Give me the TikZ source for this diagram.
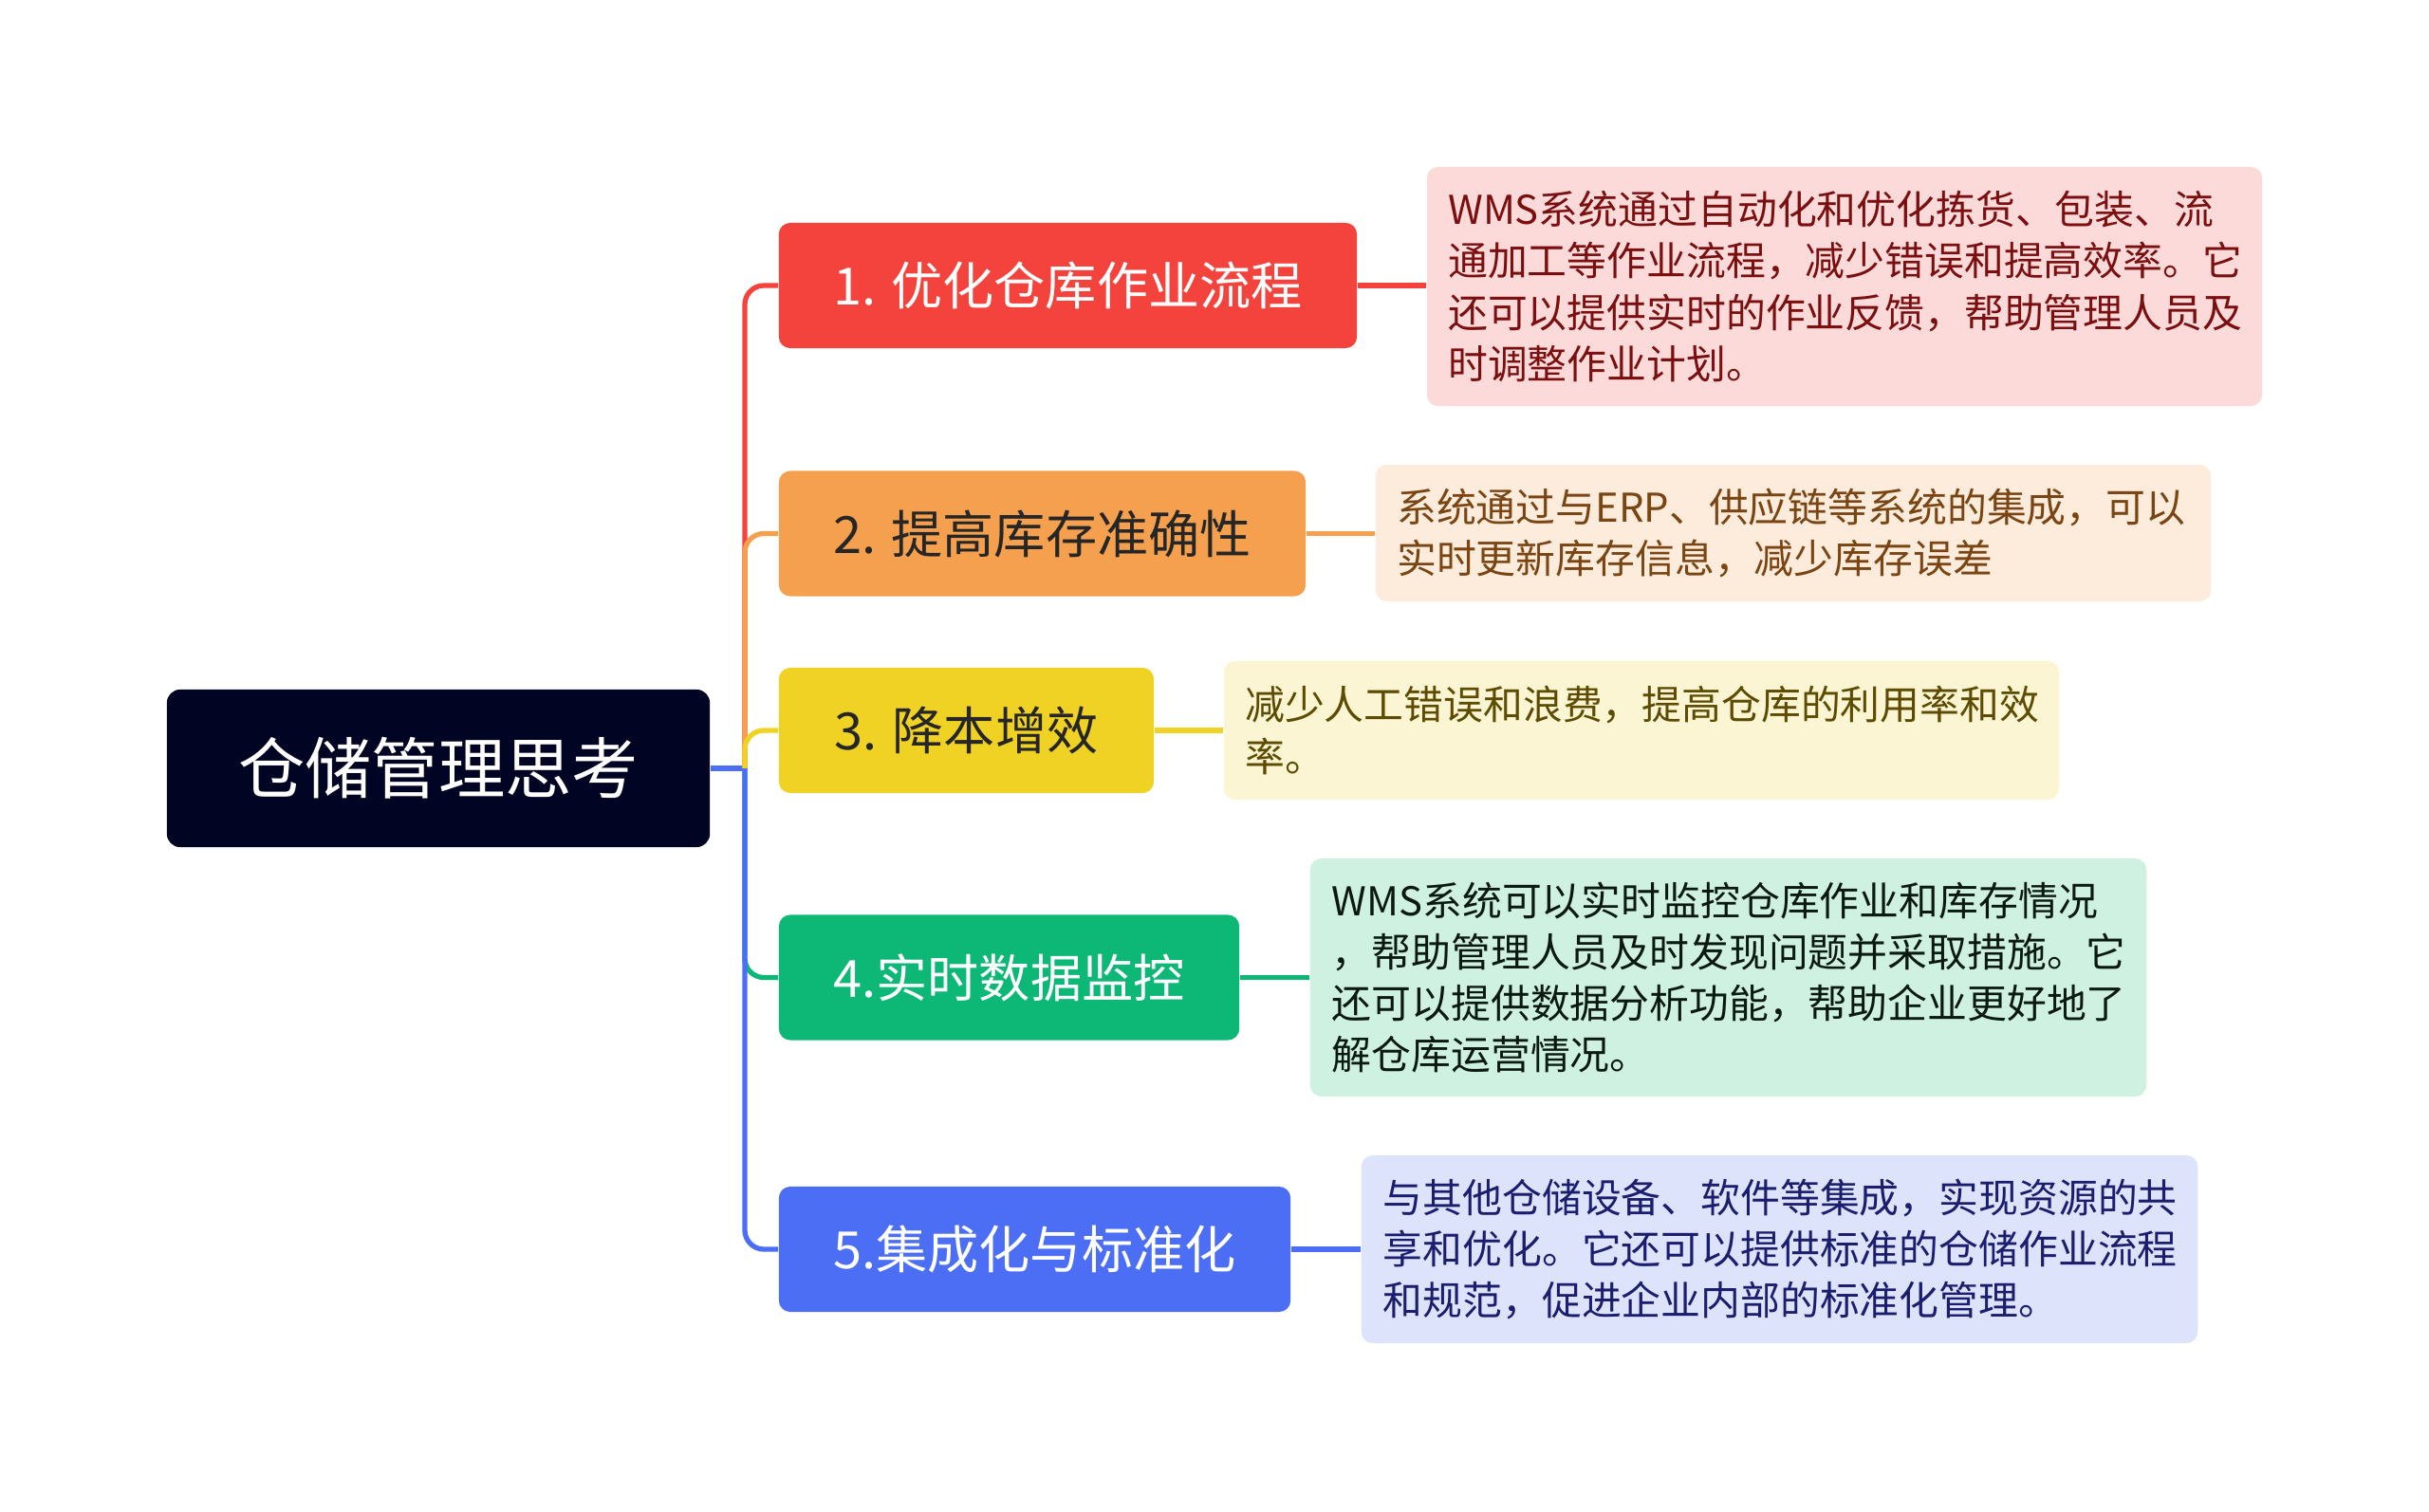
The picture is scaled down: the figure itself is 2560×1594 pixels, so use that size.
\documentclass[tikz,border=0pt]{standalone}
\usepackage{fontspec}
\setmainfont{Noto Sans CJK SC}
\definecolor{rootc}{HTML}{020424}
\definecolor{redc}{HTML}{F4433C}
\definecolor{orangec}{HTML}{F5A04E}
\definecolor{yellowc}{HTML}{F0D225}
\definecolor{greenc}{HTML}{0DB877}
\definecolor{bluec}{HTML}{4B6EF5}
\definecolor{redbg}{HTML}{FDDADA}
\definecolor{orangebg}{HTML}{FDEBDB}
\definecolor{yellowbg}{HTML}{FCF5D3}
\definecolor{greenbg}{HTML}{CEF1E2}
\definecolor{bluebg}{HTML}{DDE3FB}
\definecolor{redtxt}{HTML}{7B0F0F}
\definecolor{orangetxt}{HTML}{7A4513}
\definecolor{yellowtxt}{HTML}{5C4B00}
\definecolor{greentxt}{HTML}{0B1A10}
\definecolor{bluetxt}{HTML}{1B1E6E}
\tikzset{
	rootbox/.style={fill=rootc,text=white,rounded corners=0.14cm,inner sep=0pt,
		minimum width=5.72cm,minimum height=1.66cm,font=\fontsize{20}{24}\selectfont},
	topic/.style={fill=#1,rounded corners=0.12cm,inner sep=0pt,minimum height=1.32cm,
		font=\fontsize{15.4}{18}\selectfont},
	note/.style={fill=#1,rounded corners=0.12cm,inner sep=0pt,align=left,
		font=\fontsize{11.9}{15.4}\selectfont},
	link/.style={line width=1.5pt,draw=#1}
}
\begin{document}
\begin{tikzpicture}[x=0.01cm,y=-0.01cm]
\useasboundingbox (0,0) rectangle (2560,1594);
%root
\path (462,810) node[rootbox] (root) {仓储管理思考};
\coordinate (trunk) at (785,810);
%topics
\path (1125.5,301) node[topic=redc,text=white,minimum width=6.09cm] (t1) {1. 优化仓库作业流程};
\path (1098.5,562.5) node[topic=orangec,text=black!85,minimum width=5.55cm] (t2) {2. 提高库存准确性};
\path (1018.5,770) node[topic=yellowc,text=black!85,minimum width=3.95cm] (t3) {3. 降本增效};
\path (1063.5,1030.5) node[topic=greenc,text=white,minimum width=4.85cm] (t4) {4.实时数据监控};
\path (1090.5,1317) node[topic=bluec,text=white,minimum width=5.39cm] (t5) {5.集成化与标准化};
%notes
\path (1944,302) node[note=redbg,text=redtxt,minimum width=8.8cm,minimum height=2.52cm,text width=8.35cm] (n1)
	{WMS系统通过自动化和优化拣货、包装、流\\通加工等作业流程，减少错误和提高效率。它\\还可以提供实时的作业反馈，帮助管理人员及\\时调整作业计划。};
\path (1890,562) node[note=orangebg,text=orangetxt,minimum width=8.8cm,minimum height=1.44cm,text width=8.35cm] (n2)
	{系统通过与ERP、供应链等系统的集成，可以\\实时更新库存信息，减少库存误差};
\path (1730,770) node[note=yellowbg,text=yellowtxt,minimum width=8.8cm,minimum height=1.46cm,text width=8.35cm] (n3)
	{减少人工错误和浪费，提高仓库的利用率和效\\率。};
\path (1821.5,1030.5) node[note=greenbg,text=greentxt,minimum width=8.81cm,minimum height=2.51cm,text width=8.35cm] (n4)
	{WMS系统可以实时监控仓库作业和库存情况\\，帮助管理人员及时发现问题并采取措施。它\\还可以提供数据分析功能，帮助企业更好地了\\解仓库运营情况。};
\path (1875.5,1317) node[note=bluebg,text=bluetxt,minimum width=8.81cm,minimum height=1.98cm,text width=8.35cm] (n5)
	{与其他仓储设备、软件等集成，实现资源的共\\享和优化。它还可以提供标准的仓储作业流程\\和规范，促进企业内部的标准化管理。};
%links
\draw[link=bluec] (root.east) -- (trunk);
\draw[link=redc,rounded corners=0.2cm] (trunk) |- (t1.west);
\draw[link=orangec,rounded corners=0.2cm] (trunk) |- (t2.west);
\draw[link=yellowc,rounded corners=0.2cm] (trunk) |- (t3.west);
\draw[link=greenc,rounded corners=0.2cm] (trunk) |- (t4.west);
\draw[link=bluec,rounded corners=0.2cm] (trunk) |- (t5.west);
\draw[link=redc] (t1.east) -- (t1.east -| n1.west);
\draw[link=orangec] (t2.east) -- (t2.east -| n2.west);
\draw[link=yellowc] (t3.east) -- (t3.east -| n3.west);
\draw[link=greenc] (t4.east) -- (t4.east -| n4.west);
\draw[link=bluec] (t5.east) -- (t5.east -| n5.west);
\end{tikzpicture}
\end{document}
